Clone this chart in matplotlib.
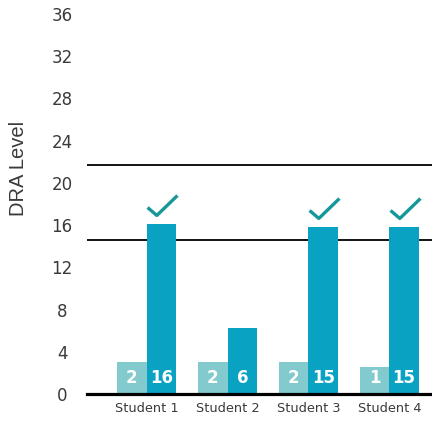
import matplotlib
matplotlib.use("Agg")
import matplotlib.pyplot as plt
import numpy as np
from matplotlib.path import Path

# ---- data ----
students = ["Student 1", "Student 2", "Student 3", "Student 4"]
prior_heights = [3.05, 3.0, 3.05, 2.6]      # light bars (as drawn)
prior_labels = ["2", "2", "2", "1"]
current_heights = [16.1, 6.3, 15.8, 15.8]   # dark bars (as drawn)
current_labels = ["16", "6", "15", "15"]
goal_met = [True, False, True, True]
benchmark_lines = [21.7, 14.6]
yticks = [0, 4, 8, 12, 16, 20, 24, 28, 32, 36]

# ---- style ----
dark_col = "#0aa2c2"
light_col = "#82cacd"
check_col = "#16989a"
text_col = "#3a3a3a"

W, H, DPI = 432, 421, 100
fig = plt.figure(figsize=(W / DPI, H / DPI), dpi=DPI)
ax = fig.add_axes([87 / W, (H - 394) / H, 1 - 87 / W, 380 / H])

x = np.arange(len(students))
bw = 0.365
ax.bar(x - bw / 2, prior_heights, width=bw, color=light_col, zorder=2)
ax.bar(x + bw / 2, current_heights, width=bw, color=dark_col, zorder=2)

for xi, lab in zip(x, prior_labels):
    ax.text(xi - bw / 2, 1.55, lab, ha="center", va="center", color="white",
            fontsize=12, fontweight="bold", zorder=3)
for xi, lab in zip(x, current_labels):
    ax.text(xi + bw / 2, 1.55, lab, ha="center", va="center", color="white",
            fontsize=12, fontweight="bold", zorder=3)

for yv in benchmark_lines:
    ax.axhline(yv, color="black", lw=1.3, zorder=1)

# check mark marker
check = Path([(-15, -2), (-5.7, -10), (15, 10)],
             [Path.MOVETO, Path.LINETO, Path.LINETO])
for xi, h, met in zip(x, current_heights, goal_met):
    if met:
        ax.plot([xi + bw / 2 + 0.01], [h + 1.8], marker=check, markersize=21.5,
                markerfacecolor="none", markeredgecolor=check_col,
                markeredgewidth=2.4, linestyle="none", zorder=3, clip_on=False)

ax.set_xlim(-0.738, 3.527)
ax.set_ylim(0, 36)
ax.set_yticks(yticks)
ax.set_xticks(x)
ax.set_xticklabels(students, fontsize=9.3, color=text_col)
for lab in ax.get_yticklabels():
    lab.set_horizontalalignment("center")
ax.tick_params(axis="y", length=0, pad=18, labelsize=12, labelcolor=text_col)
ax.tick_params(axis="x", length=0, pad=5.5)

for s in ["top", "right", "left"]:
    ax.spines[s].set_visible(False)
ax.spines["bottom"].set_linewidth(2.3)
ax.spines["bottom"].set_color("black")
ax.spines["bottom"].set_zorder(4)

ax.set_ylabel("DRA Level", fontsize=14.5, color=text_col,
              fontfamily="Liberation Sans", va="center")
ax.yaxis.set_label_coords((19 - 87) / (W - 87), (394 - 168) / 380)

fig.savefig("out.png", dpi=DPI)
